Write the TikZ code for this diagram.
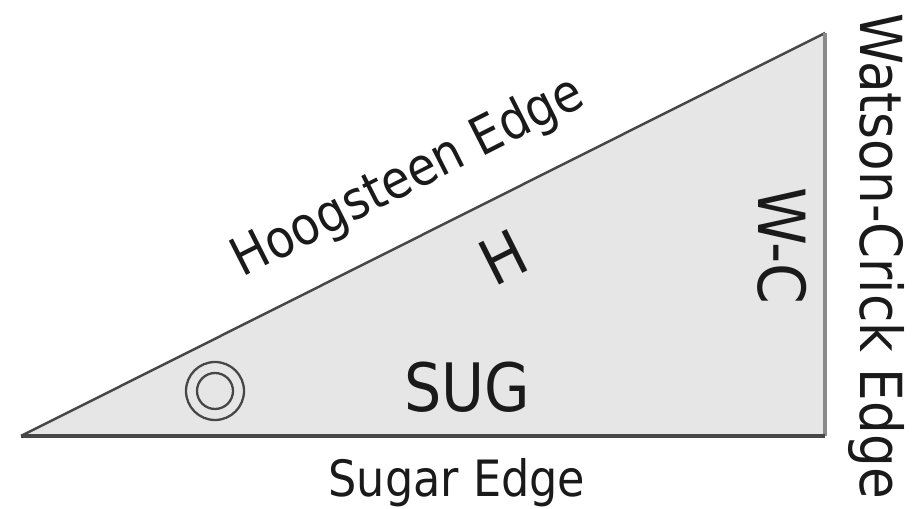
\documentclass[tikz,border=0pt]{standalone}
\usepackage{fontspec}
\setmainfont{DejaVu Sans}
\definecolor{fillg}{HTML}{E6E6E6}
\definecolor{edged}{HTML}{474747}
\definecolor{edgel}{HTML}{8A8A8A}
\definecolor{txt}{HTML}{1A1A1A}
\tikzset{lbl/.style={text=txt, inner sep=0pt, anchor=base},
         ring/.style={circle, draw=edged, line width=1.3pt, inner sep=0pt}}
\begin{document}
\begin{tikzpicture}[x=0.02cm,y=-0.02cm]
\useasboundingbox (0,0) rectangle (916,509);
\coordinate (A) at (21,436);
\coordinate (B) at (825,436);
\coordinate (C) at (825,33);
\fill[fillg] (A) -- (B) -- (C) -- cycle;
\draw[edged, line width=1.4pt] (A) -- (C);
\draw[edgel, line width=1.8pt] (B) -- (C);
\draw[edged, line width=1.8pt] (A) -- (B);
\node[ring, minimum size=1.16cm] (o1) at (215,391) {};
\node[ring, minimum size=0.72cm] (o2) at (215,391) {};
\node[lbl, font=\fontsize{38}{40}\selectfont, xscale=0.88] (sug) at (467,412) {SUG};
\node[lbl, font=\fontsize{28.5}{30}\selectfont, xscale=0.89] (se) at (457,497) {Sugar Edge};
\node[lbl, font=\fontsize{33}{35}\selectfont, rotate=-90, xscale=0.89] (wce) at (860,256) {Watson-Crick Edge};
\node[lbl, font=\fontsize{37}{39}\selectfont, rotate=-90, xscale=0.9] (wc) at (758,246) {W-C};
\node[text=txt, inner sep=0pt, anchor=center, font=\fontsize{36}{38}\selectfont, rotate=26.6, xscale=0.9] (h) at (503,257) {H};
\node[lbl, font=\fontsize{30}{32}\selectfont, rotate=26.8, xscale=0.89] (he) at (415,191) {Hoogsteen Edge};
\end{tikzpicture}
\end{document}
